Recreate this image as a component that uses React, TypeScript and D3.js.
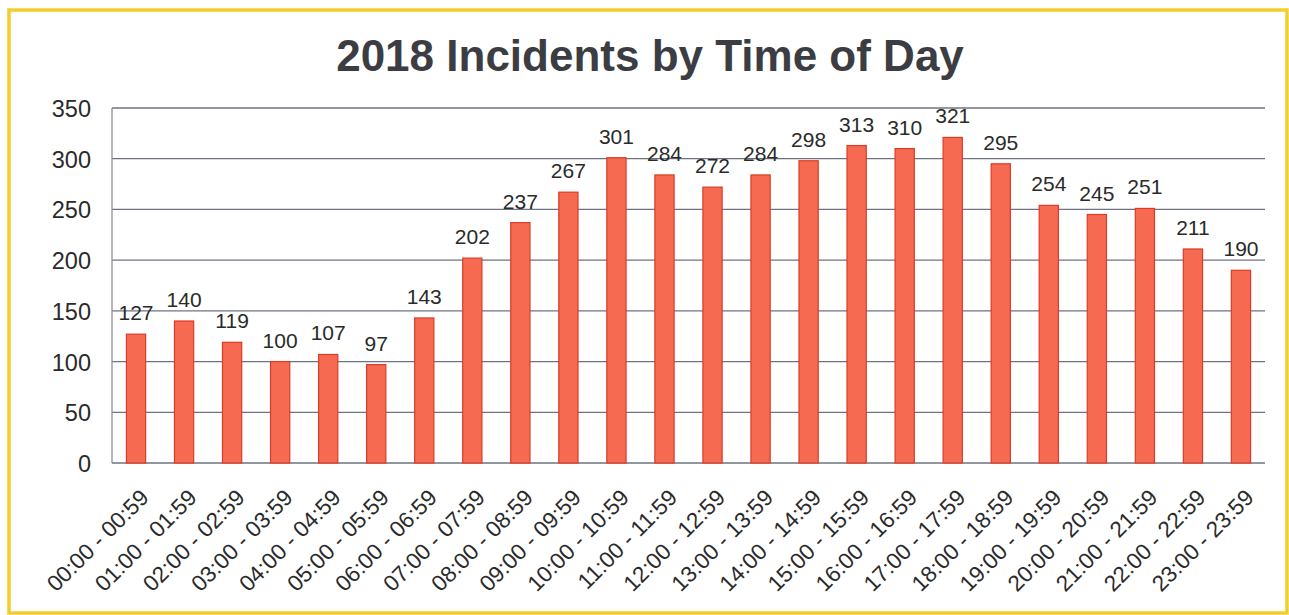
import React from 'react';
import * as d3 from 'd3';

const hours: string[] = [
    '00:00 - 00:59', '01:00 - 01:59', '02:00 - 02:59', '03:00 - 03:59', '04:00 - 04:59', '05:00 - 05:59',
    '06:00 - 06:59', '07:00 - 07:59', '08:00 - 08:59', '09:00 - 09:59', '10:00 - 10:59', '11:00 - 11:59',
    '12:00 - 12:59', '13:00 - 13:59', '14:00 - 14:59', '15:00 - 15:59', '16:00 - 16:59', '17:00 - 17:59',
    '18:00 - 18:59', '19:00 - 19:59', '20:00 - 20:59', '21:00 - 21:59', '22:00 - 22:59', '23:00 - 23:59',
];
const incidents: number[] = [
    127, 140, 119, 100, 107, 97, 143, 202, 237, 267, 301, 284,
    272, 284, 298, 313, 310, 321, 295, 254, 245, 251, 211, 190,
];
const yTicks: number[] = [0, 50, 100, 150, 200, 250, 300, 350];

const width = 1289;
const height = 615;
const plot = { left: 112, right: 1265, top: 108, bottom: 463 };
const font = '"Liberation Sans", Arial, sans-serif';

export default function App() {
    const x = d3.scaleBand<string>()
        .domain(hours)
        .range([plot.left, plot.right])
        .paddingInner(0.6)
        .paddingOuter(0.3);
    const y = d3.scaleLinear().domain([0, 350]).range([plot.bottom, plot.top]);

    return (
        <svg width={width} height={height} style={{ position: 'absolute', left: 0, top: 0 }}>
            <rect x={0} y={0} width={width} height={height} fill="#fff" />
            <rect x={9} y={10} width={1278} height={603} fill="#fff" stroke="#f3cd2c" strokeWidth={3.5} />
            <text x={650} y={71} textAnchor="middle" fontFamily={font} fontWeight="bold" fontSize={44} fill="#3b3d42">
                2018 Incidents by Time of Day
            </text>
            {yTicks.map(t => (
                <g key={t}>
                    {t > 0 && (
                        <line x1={plot.left} x2={plot.right} y1={y(t)} y2={y(t)} stroke="#6d7382" strokeWidth={1.3} />
                    )}
                    <text x={91} y={y(t) + 9} textAnchor="end" fontFamily={font} fontSize={23.5} fill="#2a2a2a">{t}</text>
                </g>
            ))}
            <line x1={plot.left} x2={plot.left} y1={plot.top} y2={plot.bottom} stroke="#8a8f99" strokeWidth={1.3} />
            <line x1={plot.left} x2={plot.right} y1={plot.bottom} y2={plot.bottom} stroke="#6d7382" strokeWidth={1.5} />
            {incidents.map((v, i) => {
                const bx = x(hours[i])!;
                return (
                    <g key={hours[i]}>
                        <rect x={bx} y={y(v)} width={x.bandwidth()} height={y(0) - y(v)}
                            fill="#f56a50" stroke="#dc3b27" strokeWidth={1.2} />
                        <text x={bx + x.bandwidth() / 2} y={y(v) - 14} textAnchor="middle"
                            fontFamily={font} fontSize={21} fill="#2a2a2a">{v}</text>
                    </g>
                );
            })}
            {hours.map(h => {
                const cx = x(h)! + x.bandwidth() / 2 + 14;
                return (
                    <text key={h} transform={`translate(${cx},${499}) rotate(-45)`} textAnchor="end"
                        fontFamily={font} fontSize={22.5} fill="#2a2a2a">{h}</text>
                );
            })}
        </svg>
    );
}
